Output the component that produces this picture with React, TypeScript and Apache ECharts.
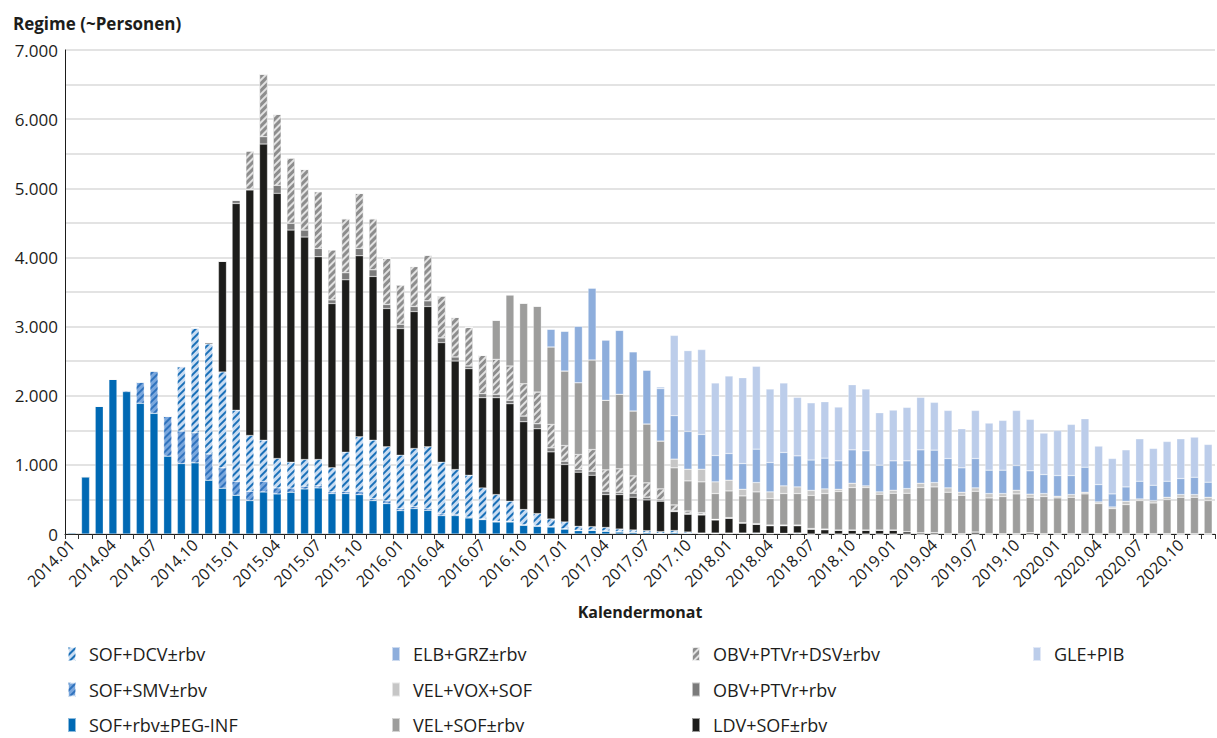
import React, { useEffect, useRef } from 'react';
import * as echarts from 'echarts';

const categories: string[] = [];
for (let y = 2014; y <= 2020; y++) {
  for (let m = 1; m <= 12; m++) categories.push(`${y}.${String(m).padStart(2, '0')}`);
}

const yTicks = [0, 1000, 2000, 3000, 4000, 5000, 6000, 7000];

// SOF+rbv±PEG-INF
const sofRbvPeg = [
  20, 830, 1850, 2240, 2060, 1890, 1745, 1126, 1019, 1029, 778, 662,
  560, 483, 608, 580, 604, 652, 667, 585, 585, 570, 483, 440,
  338, 367, 343, 266, 266, 232, 208, 174, 174, 126, 111, 101,
  72, 48, 53, 40, 30, 25, 20, 10, 20, 12, 6, 6,
  6, 6, 6, 5, 5, 5, 0, 0, 0, 0, 0, 0,
  0, 0, 0, 0, 0, 0, 0, 0, 0, 0, 0, 0,
  0, 0, 0, 0, 0, 0, 0, 0, 0, 0, 0, 0,
];
// SOF+SMV±rbv
const sofSmv = [
  0, 0, 0, 0, 20, 310, 615, 580, 470, 435, 380, 295,
  200, 135, 155, 87, 60, 40, 30, 25, 33, 50, 30, 40,
  30, 30, 30, 25, 20, 15, 10, 10, 10, 10, 10, 10,
  5, 5, 5, 5, 5, 3, 0, 0, 0, 0, 0, 0,
  0, 0, 0, 0, 0, 0, 0, 0, 0, 0, 0, 0,
  0, 0, 0, 0, 0, 0, 0, 0, 0, 0, 0, 0,
  0, 0, 0, 0, 0, 0, 0, 0, 0, 0, 0, 0,
];
// SOF+DCV±rbv
const sofDcv = [
  0, 0, 0, 0, 0, 0, 0, 0, 932, 1516, 1590, 1386,
  1030, 807, 594, 425, 375, 385, 380, 347, 566, 786, 844, 781,
  772, 840, 888, 748, 646, 603, 449, 386, 289, 217, 174, 106,
  97, 58, 48, 50, 37, 30, 28, 24, 30, 17, 8, 8,
  8, 8, 9, 5, 5, 10, 0, 0, 0, 0, 0, 0,
  0, 0, 0, 0, 0, 0, 0, 0, 0, 0, 0, 0,
  0, 0, 0, 0, 0, 0, 0, 0, 0, 0, 0, 0,
];
// LDV+SOF±rbv
const ldvSof = [
  0, 0, 0, 0, 0, 0, 0, 0, 0, 0, 20, 1604,
  2990, 3551, 4283, 3835, 3357, 3218, 2933, 2376, 2492, 2618, 2368, 2000,
  1831, 1980, 2029, 1729, 1570, 1541, 1304, 1401, 1411, 1270, 1227, 971,
  831, 783, 744, 475, 498, 474, 445, 440, 274, 256, 261, 189,
  213, 145, 125, 110, 110, 105, 70, 62, 55, 55, 55, 55,
  55, 34, 19, 20, 5, 5, 29, 5, 5, 5, 20, 5,
  5, 5, 5, 5, 5, 5, 5, 5, 5, 5, 5, 5,
];
// OBV+PTVr+rbv
const obvPtvRbv = [
  0, 0, 0, 0, 0, 0, 0, 0, 0, 0, 0, 0,
  50, 10, 105, 116, 97, 101, 120, 53, 102, 106, 96, 58,
  63, 73, 82, 68, 58, 39, 58, 48, 48, 82, 72, 58,
  48, 38, 58, 49, 34, 58, 39, 19, 10, 13, 10, 5,
  5, 0, 0, 0, 0, 0, 0, 0, 0, 0, 0, 0,
  0, 0, 0, 0, 0, 0, 0, 0, 0, 0, 0, 0,
  0, 0, 0, 0, 0, 0, 0, 0, 0, 0, 0, 0,
];
// OBV+PTVr+DSV±rbv
const obvPtvDsv = [
  0, 0, 0, 0, 0, 0, 0, 0, 0, 0, 0, 0,
  0, 555, 907, 1029, 947, 879, 822, 725, 782, 798, 739, 671,
  570, 580, 662, 608, 575, 560, 556, 508, 498, 469, 459, 339,
  227, 218, 314, 309, 339, 251, 208, 160, 87, 35, 24, 5,
  5, 5, 10, 10, 10, 10, 10, 10, 3, 3, 3, 3,
  3, 0, 0, 0, 0, 0, 0, 0, 0, 0, 0, 0,
  0, 0, 0, 0, 0, 0, 0, 0, 0, 0, 0, 0,
];
// VEL+SOF±rbv
const velSof = [
  0, 0, 0, 0, 0, 0, 0, 0, 0, 0, 0, 0,
  0, 0, 0, 0, 0, 0, 0, 0, 0, 0, 0, 0,
  0, 0, 0, 0, 0, 0, 0, 565, 1029, 1164, 1242, 1120,
  1077, 1038, 1295, 1006, 1078, 938, 851, 691, 536, 435, 445, 372,
  386, 387, 459, 382, 455, 455, 478, 513, 556, 613, 613, 517,
  531, 555, 652, 661, 599, 555, 589, 517, 536, 575, 512, 536,
  517, 526, 575, 435, 362, 420, 478, 444, 493, 526, 526, 478,
];
// VEL+VOX+SOF
const velVoxSof = [
  0, 0, 0, 0, 0, 0, 0, 0, 0, 0, 0, 0,
  0, 0, 0, 0, 0, 0, 0, 0, 0, 0, 0, 0,
  0, 0, 0, 0, 0, 0, 0, 0, 0, 0, 0, 0,
  0, 0, 0, 0, 0, 0, 0, 0, 126, 169, 183, 169,
  155, 96, 135, 97, 111, 96, 73, 67, 33, 63, 25, 34,
  44, 68, 63, 63, 63, 44, 49, 63, 44, 53, 44, 44,
  24, 39, 24, 24, 24, 48, 24, 34, 33, 39, 39, 48,
];
// ELB+GRZ±rbv
const elbGrz = [
  0, 0, 0, 0, 0, 0, 0, 0, 0, 0, 0, 0,
  0, 0, 0, 0, 0, 0, 0, 0, 0, 0, 0, 0,
  0, 0, 0, 0, 0, 0, 0, 0, 0, 0, 0, 256,
  575, 817, 1039, 871, 924, 856, 778, 759, 629, 546, 503, 381,
  386, 372, 483, 425, 483, 449, 439, 445, 411, 483, 507, 386,
  425, 401, 483, 469, 425, 353, 425, 338, 338, 357, 338, 275,
  299, 275, 362, 251, 189, 208, 256, 222, 232, 232, 251, 218,
];
// GLE+PIB
const glePib = [
  0, 0, 0, 0, 0, 0, 0, 0, 0, 0, 0, 0,
  0, 0, 0, 0, 0, 0, 0, 0, 0, 0, 0, 0,
  0, 0, 0, 0, 0, 0, 0, 0, 0, 0, 0, 0,
  0, 0, 0, 0, 0, 0, 0, 25, 1160, 1169, 1227, 1049,
  1121, 1242, 1198, 1063, 1005, 846, 827, 816, 778, 942, 894, 759,
  734, 773, 759, 691, 695, 565, 695, 681, 720, 797, 744, 599,
  653, 740, 701, 556, 512, 536, 614, 532, 575, 575, 580, 546,
];

const FONT = 'Open Sans';
const TXT = '#1d1d1b';

function stripes(color: string) {
  return {
    symbol: 'rect',
    symbolSize: 1,
    dashArrayX: [1, 0],
    dashArrayY: [1.6, 2.4],
    rotation: -Math.PI / 4,
    color,
  };
}

const seriesDefs = [
  { name: 'SOF+rbv±PEG-INF', data: sofRbvPeg, color: '#0069b4' },
  { name: 'SOF+SMV±rbv', data: sofSmv, color: '#7aa7dd', decal: stripes('#2f72bd') },
  { name: 'SOF+DCV±rbv', data: sofDcv, color: '#c9dcf2', decal: stripes('#1a70b8') },
  { name: 'LDV+SOF±rbv', data: ldvSof, color: '#1d1d1b' },
  { name: 'OBV+PTVr+rbv', data: obvPtvRbv, color: '#7b7b7b' },
  { name: 'OBV+PTVr+DSV±rbv', data: obvPtvDsv, color: '#8d8d8d', decal: stripes('#e2e2e2') },
  { name: 'VEL+SOF±rbv', data: velSof, color: '#9d9d9c' },
  { name: 'VEL+VOX+SOF', data: velVoxSof, color: '#c6c6c6' },
  { name: 'ELB+GRZ±rbv', data: elbGrz, color: '#8eaedc' },
  { name: 'GLE+PIB', data: glePib, color: '#bccdea' },
];

const legendCols = [
  { left: 67, names: ['SOF+DCV±rbv', 'SOF+SMV±rbv', 'SOF+rbv±PEG-INF'] },
  { left: 391, names: ['ELB+GRZ±rbv', 'VEL+VOX+SOF', 'VEL+SOF±rbv'] },
  { left: 691, names: ['OBV+PTVr+DSV±rbv', 'OBV+PTVr+rbv', 'LDV+SOF±rbv'] },
  { left: 1032, names: ['GLE+PIB'] },
];
const legendRowCenters = [657, 692.5, 728];

export default function App() {
  const ref = useRef<HTMLDivElement>(null);
  useEffect(() => {
    if (!ref.current) return;
    const chart = echarts.init(ref.current, undefined, { renderer: 'svg' });
    const legends: any[] = [];
    legendCols.forEach((c) => {
      c.names.forEach((n, r) => {
        legends.push({
          left: c.left,
          top: legendRowCenters[r] - 12,
          orient: 'horizontal',
          itemWidth: 8,
          itemHeight: 14,
          icon: 'rect',
          selectedMode: false,
          padding: 0,
          data: [n],
          textStyle: { fontSize: 18, color: TXT, fontFamily: FONT, padding: [0, 0, 0, 8] },
        });
      });
    });
    chart.setOption({
      animation: false,
      textStyle: { fontFamily: FONT },
      title: {
        text: 'Regime (~Personen)',
        left: 8,
        top: 10,
        textStyle: { fontFamily: FONT, fontSize: 17, fontWeight: 'bold', color: TXT },
      },
      grid: { left: 65, right: 2, top: 50, bottom: 204, containLabel: false },
      xAxis: {
        type: 'category',
        data: categories,
        name: 'Kalendermonat',
        nameLocation: 'middle',
        nameGap: 70,
        nameTextStyle: { fontFamily: FONT, fontSize: 16, fontWeight: 'bold', color: TXT },
        axisLine: { lineStyle: { color: TXT, width: 1 } },
        axisTick: { show: true, interval: 0, length: 5, lineStyle: { color: '#333' } },
        axisLabel: { interval: 2, rotate: 45, fontSize: 16, color: TXT, margin: 8, fontFamily: FONT },
      },
      yAxis: {
        type: 'value',
        min: 0,
        max: 7000,
        interval: 500,
        axisLine: { show: true, lineStyle: { color: TXT, width: 1 } },
        axisTick: { show: false },
        splitLine: { lineStyle: { color: '#dadada', width: 1.5 } },
        axisLabel: {
          fontSize: 17,
          color: TXT,
          margin: 7,
          fontFamily: FONT,
          formatter: (v: number) =>
            yTicks.includes(v) ? (v === 0 ? '0' : `${v / 1000}.000`) : '',
        },
      },
      legend: legends,
      series: seriesDefs.map((s) => ({
        name: s.name,
        type: 'bar',
        stack: 'total',
        data: s.data,
        barWidth: 8,
        itemStyle: {
          color: s.color,
          borderColor: 'rgba(255,255,255,0.55)',
          borderWidth: 0.5,
          ...(s.decal ? { decal: s.decal } : {}),
        },
        emphasis: { disabled: true },
      })),
    });
    return () => chart.dispose();
  }, []);
  return (
    <div
      ref={ref}
      style={{ position: 'fixed', left: 0, top: 0, width: 1217, height: 738, background: '#fff' }}
    />
  );
}
